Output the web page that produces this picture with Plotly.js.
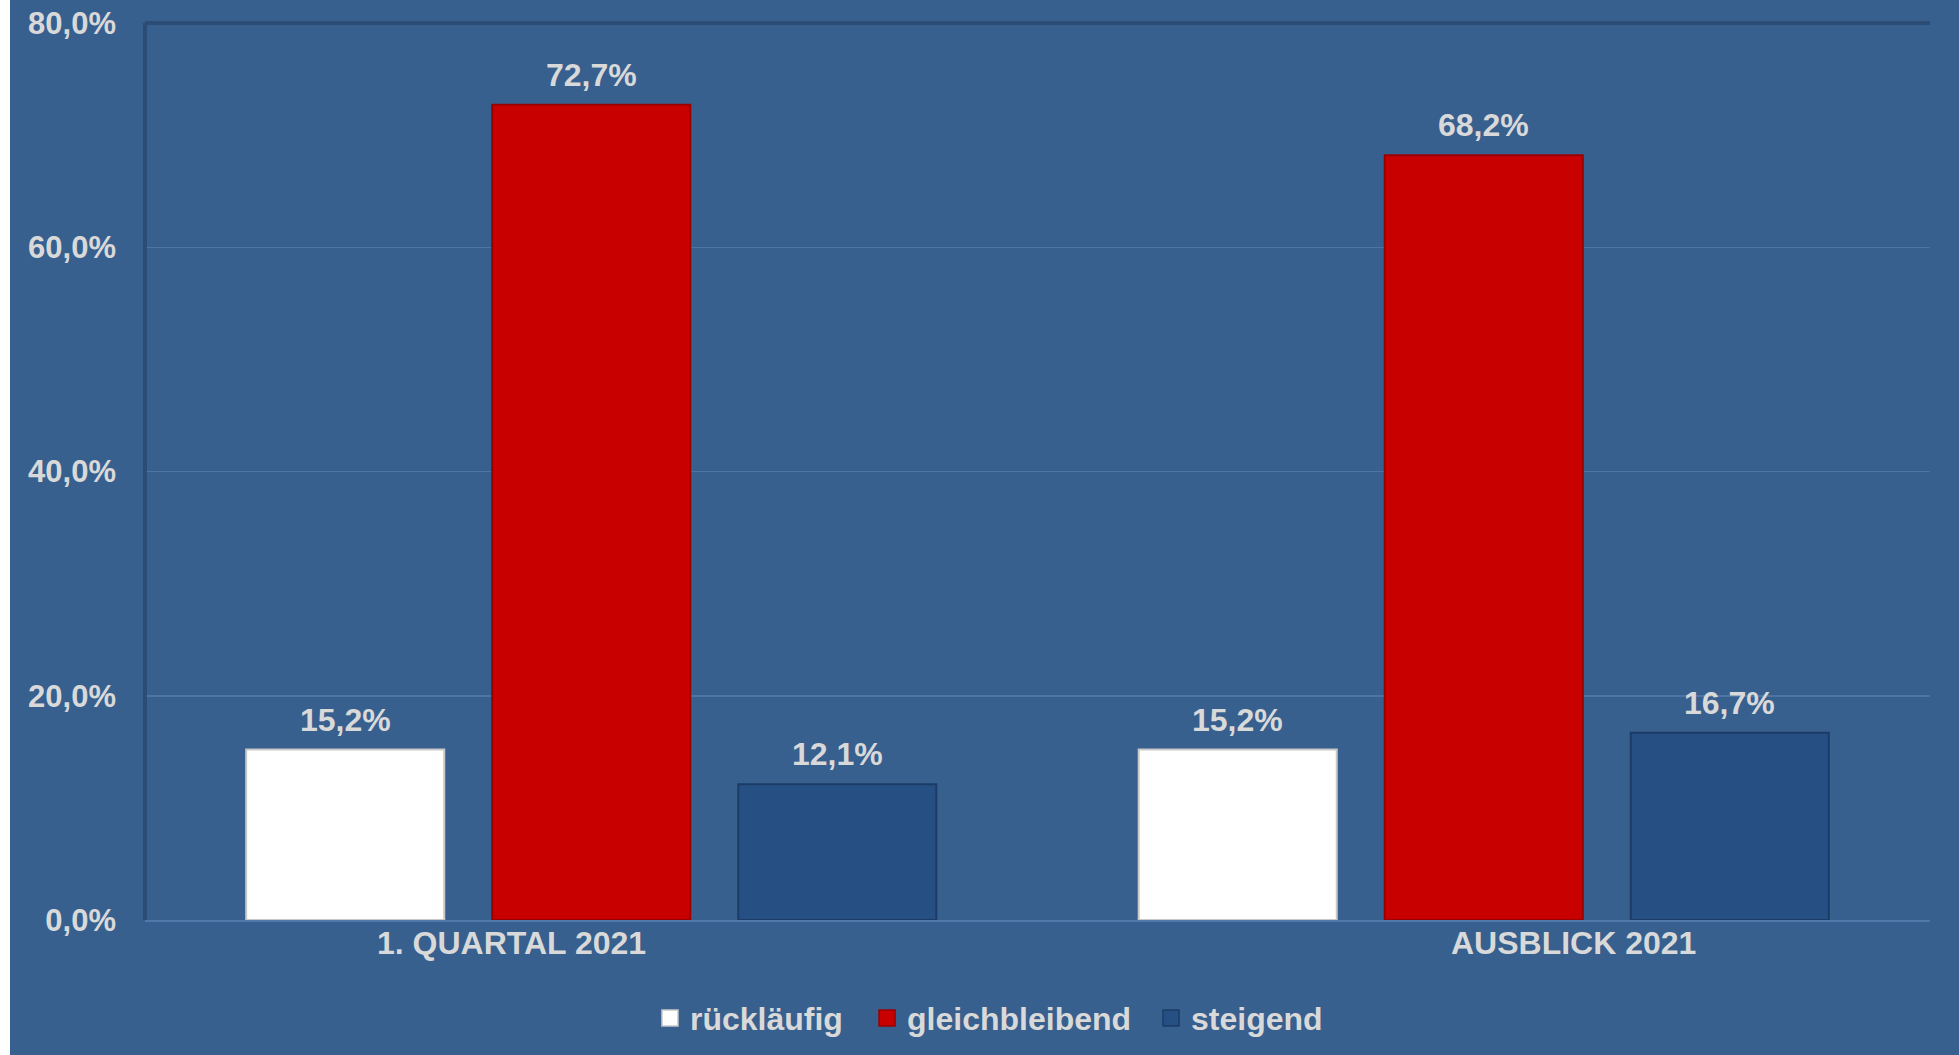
<!DOCTYPE html>
<html>
<head>
<meta charset="utf-8">
<script src="https://cdn.plot.ly/plotly-3.0.1.min.js"></script>
<style>
html,body{margin:0;padding:0;background:#ffffff;width:1959px;height:1055px;overflow:hidden;}
#chart{position:absolute;left:10px;top:0;width:1949px;height:1055px;}
</style>
</head>
<body>
<div id="chart"></div>
<script>
const categories = ["1. QUARTAL 2021", "AUSBLICK 2021"];
const seriesNames = ["rückläufig", "gleichbleibend", "steigend"];
const ruecklaeufig = [15.2, 15.2];
const gleichbleibend = [72.7, 68.2];
const steigend = [12.1, 16.7];
const yTicks = [0, 20, 40, 60, 80];

const txtColor = "#D9D9D9";
const bg = "#37608F";
const fontFam = "Liberation Sans, Arial, sans-serif";
const fsize = 32;

const W = 1949, H = 1055;
const margin = {l: 135, r: 29, t: 23, b: 135, pad: 0};
const bargap = 0.173, bargroupgap = 0.195;
// category label offsets (px) as placed in the original
const catLabelShift = [-80, 90];
// legend placement (paper x of each legend box)
const legendX = [0.2829, 0.4045, 0.5636];
const legendIds = ["legend", "legend2", "legend3"];

function fmt(v) { return v.toFixed(1).replace(".", ",") + "%"; }

const seriesVals = [ruecklaeufig, gleichbleibend, steigend];
const colors = ["#FFFFFF", "#C80000", "#264F84"];
const lineColors = ["#C8C8C8", "#9A0000", "#1C3C66"];

const data = seriesVals.map((vals, s) => ({
  type: "bar",
  name: seriesNames[s],
  x: categories,
  y: vals,
  showlegend: false,
  marker: {color: colors[s], line: {color: lineColors[s], width: 2}},
  hoverinfo: "skip"
}));

// legend entries (square swatches)
seriesNames.forEach((n, s) => {
  data.push({
    type: "scatter",
    mode: "markers",
    name: n,
    x: [null], y: [null],
    legend: legendIds[s],
    showlegend: true,
    marker: {symbol: "square", size: 16, color: colors[s],
             line: {color: lineColors[s], width: 1.5}},
    hoverinfo: "skip"
  });
});

const plotW = W - margin.l - margin.r;
const slot = plotW / categories.length * (1 - bargap) / seriesVals.length;
const annotations = [];
seriesVals.forEach((vals, s) => {
  vals.forEach((v, i) => {
    annotations.push({
      x: categories[i], y: v, xref: "x", yref: "y",
      text: fmt(v), showarrow: false,
      xanchor: "center", yanchor: "bottom",
      xshift: (s - (seriesVals.length - 1) / 2) * slot,
      yshift: 10,
      font: {family: fontFam, size: fsize, color: txtColor, weight: "bold"}
    });
  });
});
categories.forEach((c, i) => {
  annotations.push({
    x: c, y: 0, xref: "x", yref: "y",
    text: c, showarrow: false,
    xanchor: "center", yanchor: "middle",
    xshift: catLabelShift[i], yshift: -23,
    font: {family: fontFam, size: fsize, color: txtColor, weight: "bold"}
  });
});

const layout = {
  width: W,
  height: H,
  paper_bgcolor: bg,
  plot_bgcolor: bg,
  separators: ",.",
  margin: margin,
  barmode: "group",
  bargap: bargap,
  bargroupgap: bargroupgap,
  xaxis: {
    type: "category",
    automargin: false,
    showgrid: false,
    zeroline: false,
    showline: true,
    linecolor: "#5079AA",
    linewidth: 2,
    ticks: "",
    showticklabels: false
  },
  yaxis: {
    range: [0, 80],
    automargin: false,
    tickmode: "array",
    tickvals: yTicks,
    ticktext: yTicks.map(fmt),
    showgrid: true,
    gridcolor: "#4E74A3",
    gridwidth: 1.5,
    zeroline: false,
    showline: false,
    ticks: "",
    ticklabelstandoff: 28,
    tickfont: {family: fontFam, size: 31, color: txtColor, weight: "bold"}
  },
  annotations: annotations,
  shapes: [
    {type: "line", xref: "paper", yref: "paper", x0: 0, x1: 1, y0: 1, y1: 1,
     line: {color: "#2B4C75", width: 4}},
    {type: "line", xref: "paper", yref: "paper", x0: 0, x1: 0, y0: 0, y1: 1,
     line: {color: "#2B4C75", width: 4}}
  ]
};

legendIds.forEach((id, s) => {
  layout[id] = {
    orientation: "h",
    xref: "paper", x: legendX[s], xanchor: "left",
    yref: "container", y: 0.035, yanchor: "middle",
    font: {family: fontFam, size: fsize, color: txtColor, weight: "bold"},
    bgcolor: "rgba(0,0,0,0)",
    itemwidth: 30
  };
});

Plotly.newPlot("chart", data, layout, {displayModeBar: false, staticPlot: true});
</script>
</body>
</html>
